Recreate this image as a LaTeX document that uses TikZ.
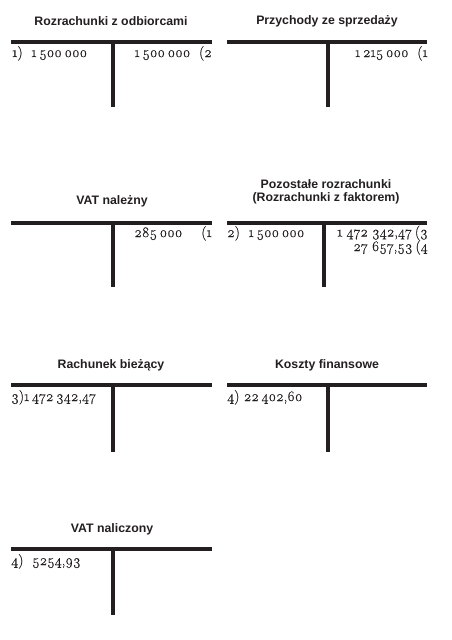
\documentclass[tikz,border=0pt]{standalone}
\usepackage{fontspec}
\setmainfont{Latin Modern Roman}[Numbers=OldStyle,FakeBold=0.6]
\newfontfamily\titlefont{Liberation Sans}
\definecolor{ink}{HTML}{231F20}
\newcommand{\gs}{\hspace{2.6pt}}
\begin{document}
\begin{tikzpicture}[x=1pt,y=-1pt,
  tline/.style={line width=3.2pt,draw=ink},
  ttitle/.style={font=\titlefont\bfseries\fontsize{12.3}{13.5}\selectfont,text=ink,inner sep=0pt,align=center},
  tnum/.style={font=\fontsize{14.5}{16}\selectfont,text=ink,inner sep=0pt}]
\useasboundingbox (0,0) rectangle (451,640);
% 1
\node[ttitle] (t1) at (111,21) {Rozrachunki z odbiorcami};
\draw[tline] (11,42) -- (212,42);
\draw[tline] (113,42) -- (113,107);
\node[tnum,anchor=base west] (a1l) at (12,57) {1)\ \ 1\gs500\gs000};
\node[tnum,anchor=base east] (a1r) at (212,57) {1\gs500\gs000\ \ (2};
% 2
\node[ttitle] (t2) at (327,21) {Przychody ze sprzedaży};
\draw[tline] (227,42) -- (427,42);
\draw[tline] (328,42) -- (328,107);
\node[tnum,anchor=base east] (a2r) at (428,57) {1\gs215\gs000\ \ (1};
% 3
\node[ttitle] (t3) at (112,201) {VAT należny};
\draw[tline] (11,223) -- (212,223);
\draw[tline] (113,223) -- (113,287);
\node[tnum,anchor=base east] (a3r) at (212,237) {285\gs000\hspace{19pt}(1};
% 4
\node[ttitle] (t4) at (326,192) {Pozostałe rozrachunki\\(Rozrachunki z faktorem)};
\draw[tline] (227,223) -- (427,223);
\draw[tline] (324,223) -- (324,287);
\node[tnum,anchor=base west] (a4l) at (227,237) {2)\ \ 1\gs500\gs000};
\node[tnum,anchor=base east] (a4r) at (428,236.5) {1\hspace{4pt}472\hspace{4pt}342,47\hspace{3pt}(3};
\node[tnum,anchor=base east] (a4r2) at (428,251) {27\hspace{4pt}657,53\hspace{3pt}(4};
% 5
\node[ttitle] (t5) at (111,365) {Rachunek bieżący};
\draw[tline] (11,385) -- (212,385);
\draw[tline] (113,385) -- (113,452);
\node[tnum,anchor=base west] (a5l) at (11,401) {3)1\gs472\gs342,47};
% 6
\node[ttitle] (t6) at (327,365) {Koszty finansowe};
\draw[tline] (227,385) -- (427,385);
\draw[tline] (328,385) -- (328,452);
\node[tnum,anchor=base west] (a6l) at (227,401) {4)\ 22\gs402,60};
% 7
\node[ttitle] (t7) at (112,529) {VAT naliczony};
\draw[tline] (11,549) -- (212,549);
\draw[tline] (113,549) -- (113,615);
\node[tnum,anchor=base west] (a7l) at (11,565) {4)\ \ 5254,93};
\end{tikzpicture}
\end{document}
